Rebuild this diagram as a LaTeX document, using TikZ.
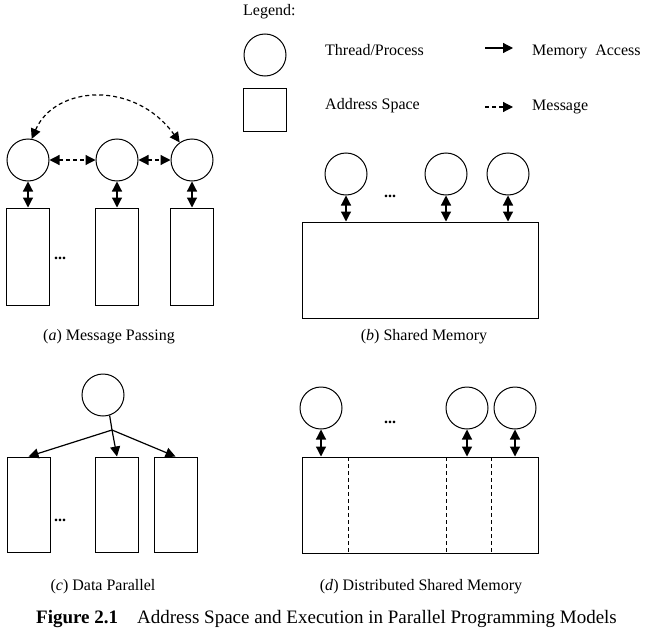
\documentclass[tikz,border=0pt]{standalone}
\usepackage{fontspec}
\setmainfont{Liberation Serif}
\usetikzlibrary{arrows.meta}
\begin{document}
\begin{tikzpicture}[x=1pt,y=-1pt,font=\fontsize{16}{19}\selectfont,
    >={Triangle[length=10pt,width=10pt]},
    proc/.style={circle,draw,line width=1pt,minimum size=42pt,inner sep=0pt},
    aspace/.style={draw,line width=1pt,inner sep=0pt,minimum width=43pt},
    acc/.style={line width=1.2pt},
    msg/.style={line width=1.2pt,dash pattern=on 4pt off 3pt},
    divider/.style={line width=0.9pt,dash pattern=on 4pt off 3pt},
    lbl/.style={anchor=west,inner sep=0pt}]
  \useasboundingbox (0,0) rectangle (650,634);
  % legend
  \node[lbl] (leg) at (243,12) {Legend:};
  \node[proc] (lp) at (265,55) {};
  \node[aspace,minimum height=43pt] (ls) at (264.5,109.5) {};
  \node[lbl] (lpt) at (325,50) {Thread/Process};
  \node[lbl] (lst) at (325,106) {Address Space};
  \coordinate (lm1) at (485,48);
  \coordinate (lm2) at (513,48);
  \draw[acc,->] (lm1) -- (lm2);
  \node[lbl] (lmt) at (532,52) {Memory\ \ Access};
  \coordinate (ld1) at (485,107);
  \coordinate (ld2) at (513,107);
  \draw[msg,->] (ld1) -- (ld2);
  \node[lbl] (ldt) at (532,107) {Message};
  % (a) message passing
  \foreach \n/\x in {1/28,2/117,3/192}{
    \node[proc] (pa\n) at (\x,160) {};
    \node[aspace,minimum height=97pt] (ma\n) at (\x,256.5) {};
    \draw[acc,<->] (pa\n) -- (ma\n);
  }
  \draw[msg,<->] (pa1) -- (pa2);
  \draw[msg,<->] (pa2) -- (pa3);
  \draw[msg,<->] (pa1.80) .. controls (55,85) and (135,80) .. (pa3.125);
  \node (dotsa) at (60,258) {\textbf{...}};
  \node (capa) at (109,337) {(\textit{a}) Message Passing};
  % (b) shared memory
  \node[aspace,minimum width=236pt,minimum height=96pt] (mb) at (420,270) {};
  \foreach \n/\x in {1/346,2/446,3/508}{
    \node[proc] (pb\n) at (\x,174) {};
    \draw[acc,<->] (pb\n) -- (pb\n |- mb.north);
  }
  \node (dotsb) at (390,196) {\textbf{...}};
  \node (capb) at (424,337) {(\textit{b}) Shared Memory};
  % (c) data parallel
  \node[proc] (pc) at (103,395) {};
  \coordinate (split) at (112,430);
  \foreach \n/\x in {1/28.5,2/117,3/175.5}{
    \node[aspace,minimum height=95pt] (mc\n) at (\x,504.5) {};
    \draw[acc,->] (split) -- (mc\n.north);
  }
  \draw[acc] (pc.-72) -- (split);
  \node (dotsc) at (60,520) {\textbf{...}};
  \node (capc) at (103,587) {(\textit{c}) Data Parallel};
  % (d) distributed shared memory
  \node[aspace,minimum width=236pt,minimum height=96pt] (md) at (420,505) {};
  \foreach \x in {348,446,491}
    \draw[divider] (\x,457) -- (\x,553);
  \foreach \n/\x in {1/321,2/467,3/515}{
    \node[proc] (pd\n) at (\x,408) {};
    \draw[acc,<->] (pd\n) -- (pd\n |- md.north);
  }
  \node (dotsd) at (390,422) {\textbf{...}};
  \node (capd) at (421,587) {(\textit{d}) Distributed Shared Memory};
  % caption
  \node[lbl,font=\fontsize{19}{22}\selectfont] (fig) at (36,619)
    {\textbf{Figure 2.1}\quad Address Space and Execution in Parallel Programming Models};
\end{tikzpicture}
\end{document}
